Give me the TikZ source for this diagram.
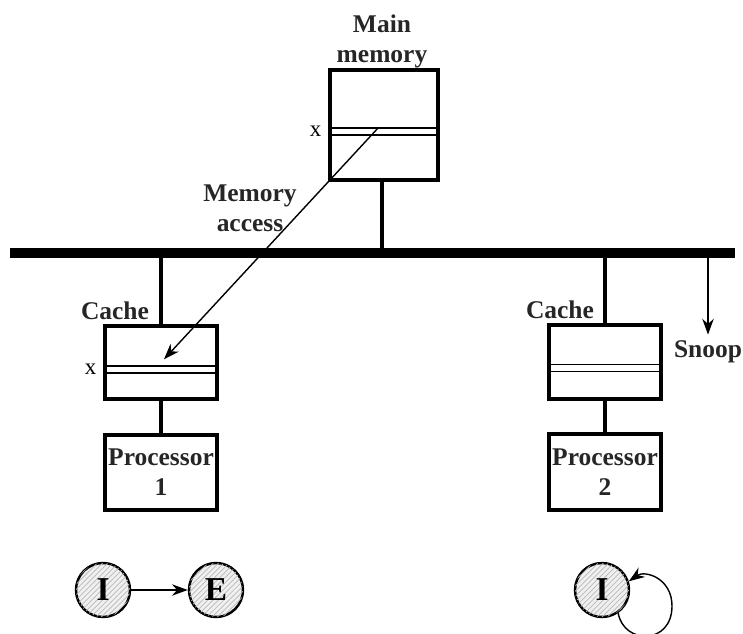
\documentclass[tikz,border=0pt]{standalone}
\usepackage{fontspec}
\setmainfont{Liberation Serif}
\usetikzlibrary{arrows.meta, positioning, patterns}

\begin{document}
\begin{tikzpicture}[x=0.02cm, y=-0.02cm,
        >={Stealth[length=9pt, width=6.5pt]},
        unit/.style={draw, line width=1.9pt, minimum width=2.24cm, inner sep=0pt},
        slot/.style={draw, line width=0.8pt, minimum height=0.14cm, inner sep=0pt},
        lbl/.style={font=\fontsize{14.5}{17}\selectfont\bfseries, align=center, text=black!85},
        stem/.style={line width=2.3pt},
        arr/.style={->, line width=0.8pt},
        state/.style={circle, draw, line width=1.4pt, minimum size=1.08cm, inner sep=0pt,
                      fill=gray!12, postaction={pattern=north east lines, pattern color=gray!55},
                      font=\fontsize{19}{20}\selectfont\bfseries},
    ]
    \useasboundingbox (0,0) rectangle (743,634);

    % ---- Shared bus ----
    \coordinate (busL) at (10,253);
    \coordinate (busR) at (735,253);
    \draw[line width=5.5pt] (busL) -- (busR);

    % ---- Main memory ----
    \node[lbl] (memlbl) at (382,41) {Main\\memory};
    \node[unit, minimum width=2.16cm, minimum height=2.2cm] (mem) at (384,125) {};
    \node[slot, minimum width=2.16cm] (mslot) at (384,131.5) {};
    \node[font=\fontsize{13}{14}\selectfont, anchor=east] at ([xshift=-1pt]mslot.west) {x};
    \draw[stem] ([xshift=-1pt]mem.south) -- ([xshift=-1pt]mem.south |- busL);

    % ---- Processor 1 with its cache ----
    \node[lbl] (c1lbl) at (115,311) {Cache};
    \node[unit, minimum height=1.46cm] (cache1) at (161,362.5) {};
    \node[slot, minimum width=2.24cm] (c1slot) at (161,369.5) {};
    \node[font=\fontsize{13}{14}\selectfont, anchor=east] at ([xshift=-1pt]c1slot.west) {x};
    \node[unit, lbl, minimum height=1.5cm] (proc1) at (161,472.5) {Processor\\1};
    \draw[stem] (cache1.north) -- (cache1.north |- busL);
    \draw[stem] (cache1.south) -- (proc1.north);

    % ---- Processor 2 with its cache ----
    \node[lbl] (c2lbl) at (560,310) {Cache};
    \node[unit, minimum height=1.48cm] (cache2) at (605,362) {};
    \node[slot, minimum width=2.24cm] (c2slot) at (605,368) {};
    \node[unit, lbl, minimum height=1.52cm] (proc2) at (605,472) {Processor\\2};
    \draw[stem] (cache2.north) -- (cache2.north |- busL);
    \draw[stem] (cache2.south) -- (proc2.north);

    % ---- Memory access and snoop ----
    \node[lbl] (acclbl) at (250,208) {Memory\\access};
    \draw[arr] ([xshift=-3pt]mslot.north) -- ([shift={(3,-6)}]c1slot.north);
    \node[lbl] (snoop) at (708,352) {Snoop};
    \draw[arr] (snoop.north |- busL) -- (snoop.north);

    % ---- State transitions ----
    \node[state] (i1) at (103,590) {I};
    \node[state] (e1) at (216,590) {E};
    \draw[arr] (i1) -- (e1);
    \node[state] (i2) at (602,590) {I};
    \draw[arr] (i2.-55) .. controls (624,645) and (672,645) .. (672,606)
        .. controls (672,578) and (645,570) .. (i2.18);

\end{tikzpicture}
\end{document}
